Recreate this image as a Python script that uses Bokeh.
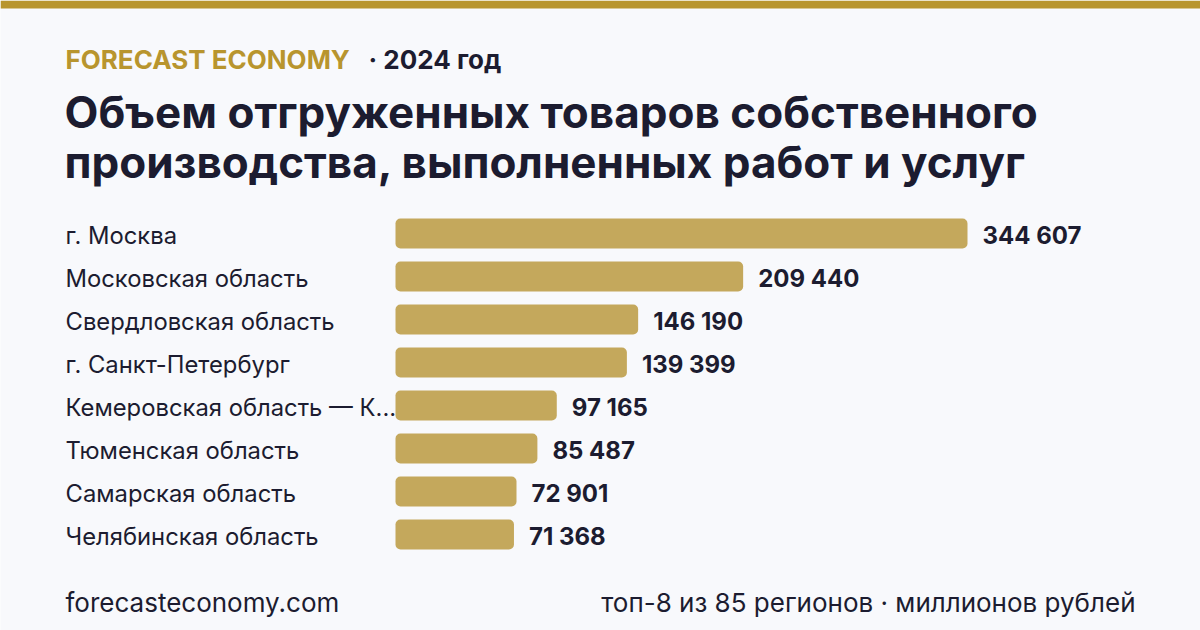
from bokeh.plotting import figure
from bokeh.models import ColumnDataSource, Range1d, Label, BoxAnnotation
from bokeh.core.properties import value
from bokeh.embed import file_html
from bokeh.resources import INLINE

# Top-8 regions by shipped goods, works and services, 2024 (million rubles)
regions = [
    "г. Москва",
    "Московская область",
    "Свердловская область",
    "г. Санкт-Петербург",
    "Кемеровская область — К...",
    "Тюменская область",
    "Самарская область",
    "Челябинская область",
]
values = [344607, 209440, 146190, 139399, 97165, 85487, 72901, 71368]

W, H = 1200, 630
BG = "#F8F9FC"
GOLD = "#B8952E"
BAR = "#C4A85C"
INK = "#1C1C30"
FONT = "Inter"

# horizontal scale: zero at 395 px, largest bar 572 px long
bar_left_px = 395
bar_span_px = 572
upp = max(values) / bar_span_px          # data units per pixel
x_start = -bar_left_px * upp
x_end = (W - bar_left_px) * upp

# vertical scale: one row = 43 px, first row centred 233 px from the top
row_px = 43
first_row_px = 233
y_end = first_row_px / row_px
y_start = y_end - H / row_px

ranks = [-i for i in range(len(regions))]
labels = [f"{v:,}".replace(",", " ") for v in values]
label_x = [x_start + 65 * upp] * len(regions)

src = ColumnDataSource(dict(y=ranks, v=values, region=regions, txt=labels, lx=label_x))

p = figure(width=W, height=H, x_range=Range1d(x_start, x_end), y_range=Range1d(y_start, y_end),
           output_backend="svg", toolbar_location=None, min_border=0)
p.axis.visible = False
p.grid.visible = False
p.outline_line_color = None
p.background_fill_color = BG
p.border_fill_color = BG

p.hbar(y="y", left=0, right="v", height=30 / row_px, source=src,
       fill_color=BAR, line_color=None, border_radius=5)

p.text(x="v", y="y", text="txt", source=src, x_offset=15, y_offset=2, text_baseline="middle",
       text_font=value(FONT), text_font_style="bold", text_font_size="24px", text_color=INK)

p.text(x="lx", y="y", text="region", source=src, y_offset=2, text_baseline="middle",
       text_font=value(FONT), text_font_size="23.8px", text_color=INK)

# gold strip along the top edge
p.add_layout(BoxAnnotation(bottom=H - 8, bottom_units="screen", fill_color=GOLD,
                           fill_alpha=1, line_color=None))

def put(text, x, baseline, size, color=INK, bold=True, align="left"):
    # label anchor sits about 0.37 em above the drawn baseline
    y = baseline - 0.37 * size
    p.add_layout(Label(x=x, y=H - y, x_units="screen", y_units="screen", text=text,
                       text_font=FONT, text_font_size=f"{size}px", text_color=color,
                       text_font_style="bold" if bold else "normal",
                       text_align=align, text_baseline="alphabetic"))

put("FORECAST ECONOMY", 65, 69, 26, color=GOLD)
put("· 2024 год", 368, 69, 26)
put("Объем отгруженных товаров собственного", 64, 128, 44)
put("производства, выполненных работ и услуг", 64, 178, 44)
put("forecasteconomy.com", 65, 612, 26, bold=False)
put("топ-8 из 85 регионов · миллионов рублей", 1135, 612, 26, bold=False, align="right")

open("out.html", "w").write(file_html(p, INLINE))
